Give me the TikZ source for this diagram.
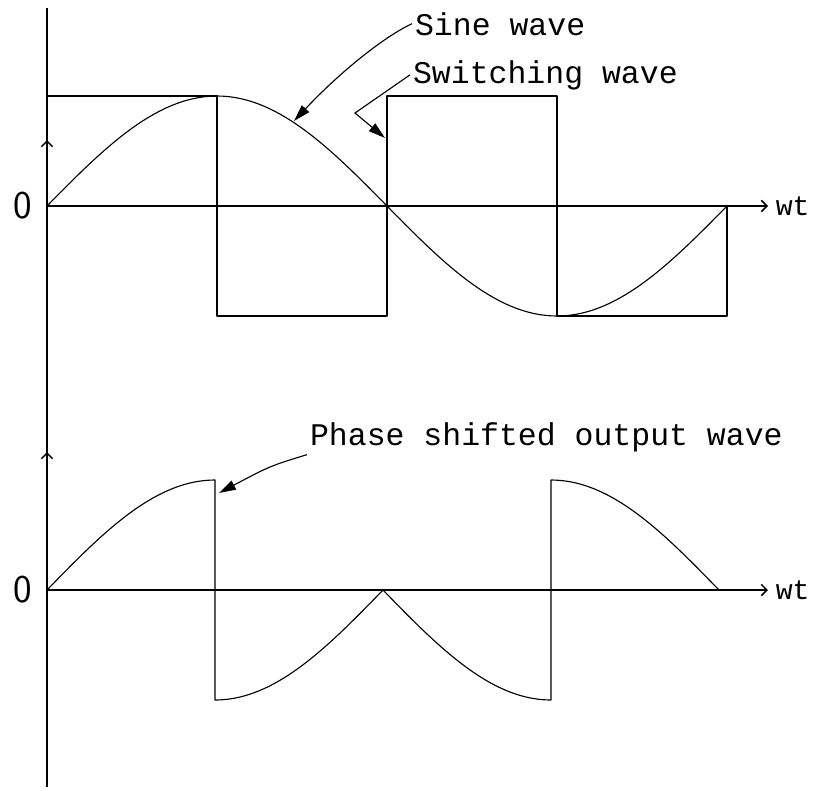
\documentclass[tikz,border=0pt]{standalone}
\usepackage{fontspec}
\newfontfamily\labelfont{Liberation Mono}
\usetikzlibrary{positioning, arrows.meta}

\begin{document}
\begin{tikzpicture}[
    x=0.025cm,
    y=-0.025cm,
    axis/.style={
        line width=1.1pt
    },
    axistip/.style={
        -{Straight Barb[length=4pt,width=8pt]}
    },
    wave/.style={
        line width=0.8pt,
        line join=round
    },
    leader/.style={
        line width=0.8pt,
        -{Triangle[length=12pt,width=7pt]}
    },
    caption/.style={
        font=\labelfont\fontsize{22.4}{26}\selectfont,
        anchor=base west,
        inner sep=2pt
    },
    zero/.style={
        font=\sffamily\fontsize{28}{28}\selectfont
    },
    unit/.style={
        font=\labelfont\fontsize{20}{22}\selectfont
    }
]
\useasboundingbox (0,0) rectangle (816,790);

% Axes
\coordinate (yaxtop) at (47,8);
\coordinate (yaxbot) at (47,787);
\coordinate (toporigin) at (47,206);
\coordinate (topend) at (768,206);
\coordinate (botorigin) at (47,590);
\coordinate (botend) at (768,590);

\draw[axis] (yaxtop) -- (yaxbot);
\draw[axis, axistip] (47,165) -- (47,140);
\draw[axis, axistip] (47,475) -- (47,452);
\draw[axis, axistip] (toporigin) -- (topend);
\draw[axis, axistip] (botorigin) -- (botend);

\node[zero, left=7pt of toporigin] (zerotop) {0};
\node[zero, left=7pt of botorigin] (zerobot) {0};
\node[unit, right=2pt of topend] (wttop) {wt};
\node[unit, right=2pt of botend] (wtbot) {wt};

% Sine wave and switching wave
\draw[wave] plot[domain=0:360, samples=121] ({47+1.8889*\x}, {206-110*sin(\x)});
\draw[wave] (47,96) -- (217,96) -- (217,316) -- (387,316) -- (387,96)
    -- (557,96) -- (557,316) -- (727,316) -- (727,206);

% Phase shifted output wave
\draw[wave] plot[domain=0:90, samples=40] ({47+1.8667*\x}, {590-110*sin(\x)})
    -- (215,700)
    -- plot[domain=0:90, samples=40] ({215+1.8667*\x}, {590+110*cos(\x)})
    -- plot[domain=0:90, samples=40] ({383+1.8667*\x}, {590+110*sin(\x)})
    -- (551,480)
    -- plot[domain=0:90, samples=40] ({551+1.8667*\x}, {590-110*cos(\x)});

% Labels
\node[caption] (sinelab) at (412,35) {Sine wave};
\node[caption] (switchlab) at (410,83) {Switching wave};
\node[caption] (outlab) at (307,445) {Phase shifted output wave};

\coordinate (sinetip) at (294,121);
\coordinate (switchtip) at (385,138);
\coordinate (outtip) at (219,493);

\draw[leader] (sinelab.west) .. controls (385,36) and (340,72) .. (sinetip);
\draw[leader] (switchlab.west) -- (355,113) -- (switchtip);
\draw[leader] (outlab.south west) .. controls (270,466) .. (outtip);

\end{tikzpicture}
\end{document}
